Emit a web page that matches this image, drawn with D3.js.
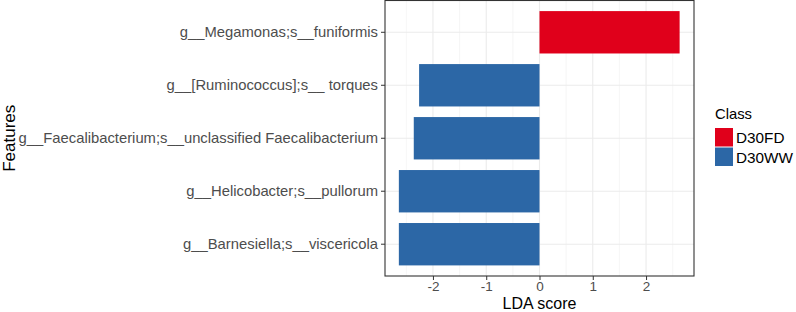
<!DOCTYPE html>
<html><head><meta charset="utf-8">
<script src="https://cdn.jsdelivr.net/npm/d3@7"></script>
<style>body{margin:0;background:#fff}svg{display:block;font-family:"Liberation Sans",Arial,sans-serif}</style>
</head><body><svg id="c" width="796" height="312"></svg>
<script>
const features = ["g__Megamonas;s__funiformis","g__[Ruminococcus];s__ torques","g__Faecalibacterium;s__unclassified Faecalibacterium","g__Helicobacter;s__pullorum","g__Barnesiella;s__viscericola"];
const ldaScores = [2.63, -2.26, -2.36, -2.64, -2.64];
const classes = ["D30FD","D30WW","D30WW","D30WW","D30WW"];
const classNames = ["D30FD","D30WW"];
const classColors = ["#e0001b","#2c67a6"];
const xTicks = [-2,-1,0,1,2];
const xMinor = [-2.5,-1.5,-0.5,0.5,1.5,2.5];

const svg = d3.select("#c");
const L=385, R=694, T=0.5, B=276;
const x = d3.scaleLinear().domain([-2.9,2.9]).range([L,R]);
const y = d3.scaleBand().domain(features).range([T,B]).paddingInner(0.2).paddingOuter(0.2);
const col = d3.scaleOrdinal().domain(classNames).range(classColors);
const FF = "'Liberation Sans',Arial,sans-serif";

const g = svg.append("g");
g.append("rect").attr("x",L).attr("y",T).attr("width",R-L).attr("height",B-T).attr("fill","#fff");
g.selectAll(".mn").data(xMinor).join("line").attr("x1",d=>x(d)).attr("x2",d=>x(d)).attr("y1",T).attr("y2",B).attr("stroke","#f0f0f0").attr("stroke-width",0.6);
g.selectAll(".mj").data(xTicks).join("line").attr("x1",d=>x(d)).attr("x2",d=>x(d)).attr("y1",T).attr("y2",B).attr("stroke","#ebebeb").attr("stroke-width",1.1);
g.selectAll(".hy").data(features).join("line").attr("x1",L).attr("x2",R).attr("y1",d=>y(d)+y.bandwidth()/2).attr("y2",d=>y(d)+y.bandwidth()/2).attr("stroke","#ebebeb").attr("stroke-width",1.1);

g.selectAll(".bar").data(features).join("rect")
 .attr("x",(d,i)=>x(Math.min(0,ldaScores[i])))
 .attr("width",(d,i)=>Math.abs(x(ldaScores[i])-x(0)))
 .attr("y",d=>y(d)).attr("height",y.bandwidth())
 .attr("fill",(d,i)=>col(classes[i]));

g.append("rect").attr("x",L).attr("y",T).attr("width",R-L).attr("height",B-T).attr("fill","none").attr("stroke","#333").attr("stroke-width",1.1);

const xa = svg.append("g").attr("transform",`translate(0,${B})`).call(d3.axisBottom(x).tickValues(xTicks).tickSize(4).tickPadding(1.5).tickFormat(d=>String(d)));
xa.select(".domain").remove();
xa.selectAll("line").attr("stroke","#333");
xa.selectAll("text").attr("fill","#4d4d4d").style("font-size","13.5px").style("font-family",FF);

const ya = svg.append("g").attr("transform",`translate(${L},0)`).call(d3.axisLeft(y).tickSize(4).tickPadding(3));
ya.select(".domain").remove();
ya.selectAll("line").attr("stroke","#333");
ya.selectAll("text").attr("fill","#4d4d4d").style("font-size","14.8px").style("font-family",FF);

svg.append("text").attr("x",(L+R)/2).attr("y",308.5).attr("text-anchor","middle").style("font-size","16px").attr("fill","#000").text("LDA score");
svg.append("text").attr("transform",`translate(15,${(T+B)/2}) rotate(-90)`).attr("text-anchor","middle").style("font-size","17px").attr("fill","#000").text("Features");

const lg = svg.append("g");
lg.append("text").attr("x",715).attr("y",119).style("font-size","14.8px").text("Class");
lg.selectAll(".k").data(classNames).join("rect").attr("x",715).attr("y",(d,i)=>128+i*19.5).attr("width",18).attr("height",18.5).attr("fill",d=>col(d));
lg.selectAll(".kt").data(classNames).join("text").attr("x",736).attr("y",(d,i)=>143+i*19.5).style("font-size","15.3px").text(d=>d);
</script></body></html>
